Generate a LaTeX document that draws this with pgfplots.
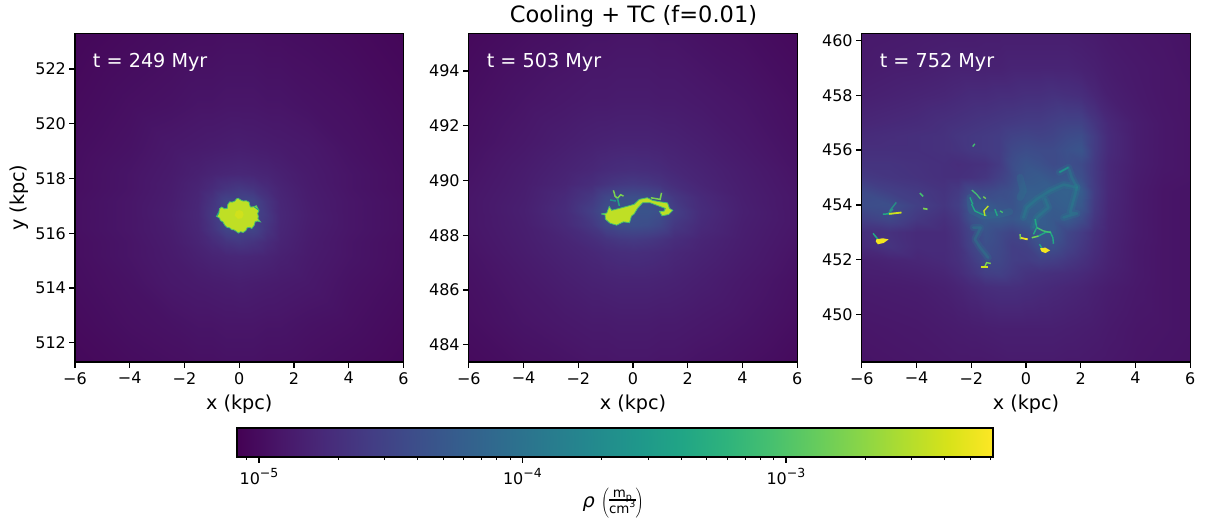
\documentclass[border=0pt]{standalone}
\usepackage{pgfplots}
\usepackage{fontspec}
\setmainfont{DejaVu Sans}
\pgfplotsset{compat=1.18}
\definecolor{yA}{HTML}{BFDF25}
\definecolor{yB}{HTML}{D0E11C}
\definecolor{yC}{HTML}{F4E61E}
\definecolor{gA}{HTML}{44BF70}
\definecolor{gB}{HTML}{7AD151}
\definecolor{tA}{HTML}{22A884}
\definecolor{tB}{HTML}{2A788E}
\definecolor{tC}{HTML}{21918C}
\newcommand{\tenp}[1]{10\raisebox{0.45em}{\fontsize{12.5}{13}\selectfont −#1}}
\tikzset{tlabel/.style={white, anchor=west, font=\fontsize{19.2}{21}\selectfont}}
\pgfplotsset{
  pan/.style={
    scale only axis, width=328.5pt, height=328.5pt, axis on top,
    colormap/viridis, point meta min=-5.0835, point meta max=-2.214,
    xmin=-6, xmax=6, enlargelimits=false,
    xtick={-6,-4,-2,0,2,4,6}, xticklabels={−6,−4,−2,0,2,4,6},
    tick align=outside, tick pos=lower, major tick length=5.6pt,
    tick style={black, line width=1.3pt}, axis line style={line width=1.3pt},
    tick label style={font=\fontsize{16}{18}\selectfont},
    xticklabel style={yshift=-1pt},
    label style={font=\fontsize{19.2}{21}\selectfont},
    xlabel={x (kpc)}, xlabel style={yshift=-4pt},
  },
  heat/.style={surf, shader=interp, point meta=explicit},
  wisp/.style={tC, opacity=0.16, line width=7pt, line join=round, line cap=round},
  core/.style={tC, opacity=0.28, line width=2.6pt, line join=round, line cap=round},
}
\begin{document}
\begin{tikzpicture}[x=1pt,y=1pt]
\path[use as bounding box] (0,0) rectangle (1207,520);
\node[font=\fontsize{22.5}{24}\selectfont] at (633.5,503.5) {Cooling + TC (f=0.01)};

% ---------- panel 1
\begin{axis}[pan, at={(75pt,158pt)}, anchor=south west, ymin=511.30, ymax=523.30,
  ytick={512,514,516,518,520,522}, yticklabels={512,514,516,518,520,522}, ylabel={y (kpc)}]
\addplot[heat, mesh/cols=13] table[row sep=\\, meta=m]{x y m\\
-6 510.67 -5.04\\-4 510.67 -5.01\\-2.5 510.67 -4.99\\-1.5 510.67 -4.98\\-1 510.67 -4.98\\-0.5 510.67 -4.97\\0 510.67 -4.97\\0.5 510.67 -4.97\\1 510.67 -4.98\\1.5 510.67 -4.98\\2.5 510.67 -4.99\\4 510.67 -5.01\\6 510.67 -5.04\\
-6 512.67 -5.01\\-4 512.67 -4.97\\-2.5 512.67 -4.95\\-1.5 512.67 -4.93\\-1 512.67 -4.93\\-0.5 512.67 -4.92\\0 512.67 -4.92\\0.5 512.67 -4.92\\1 512.67 -4.93\\1.5 512.67 -4.93\\2.5 512.67 -4.95\\4 512.67 -4.97\\6 512.67 -5.01\\
-6 514.17 -4.99\\-4 514.17 -4.95\\-2.5 514.17 -4.90\\-1.5 514.17 -4.88\\-1 514.17 -4.87\\-0.5 514.17 -4.86\\0 514.17 -4.85\\0.5 514.17 -4.86\\1 514.17 -4.87\\1.5 514.17 -4.88\\2.5 514.17 -4.90\\4 514.17 -4.95\\6 514.17 -4.99\\
-6 515.17 -4.98\\-4 515.17 -4.93\\-2.5 515.17 -4.88\\-1.5 515.17 -4.83\\-1 515.17 -4.80\\-0.5 515.17 -4.78\\0 515.17 -4.77\\0.5 515.17 -4.78\\1 515.17 -4.80\\1.5 515.17 -4.83\\2.5 515.17 -4.88\\4 515.17 -4.93\\6 515.17 -4.98\\
-6 515.67 -4.98\\-4 515.67 -4.93\\-2.5 515.67 -4.87\\-1.5 515.67 -4.80\\-1 515.67 -4.74\\-0.5 515.67 -4.66\\0 515.67 -4.62\\0.5 515.67 -4.66\\1 515.67 -4.74\\1.5 515.67 -4.80\\2.5 515.67 -4.87\\4 515.67 -4.93\\6 515.67 -4.98\\
-6 516.17 -4.97\\-4 516.17 -4.92\\-2.5 516.17 -4.86\\-1.5 516.17 -4.78\\-1 516.17 -4.66\\-0.5 516.17 -4.50\\0 516.17 -4.50\\0.5 516.17 -4.50\\1 516.17 -4.66\\1.5 516.17 -4.78\\2.5 516.17 -4.86\\4 516.17 -4.92\\6 516.17 -4.97\\
-6 516.67 -4.97\\-4 516.67 -4.92\\-2.5 516.67 -4.85\\-1.5 516.67 -4.77\\-1 516.67 -4.62\\-0.5 516.67 -4.50\\0 516.67 -4.50\\0.5 516.67 -4.50\\1 516.67 -4.62\\1.5 516.67 -4.77\\2.5 516.67 -4.85\\4 516.67 -4.92\\6 516.67 -4.97\\
-6 517.17 -4.97\\-4 517.17 -4.92\\-2.5 517.17 -4.86\\-1.5 517.17 -4.78\\-1 517.17 -4.66\\-0.5 517.17 -4.50\\0 517.17 -4.50\\0.5 517.17 -4.50\\1 517.17 -4.66\\1.5 517.17 -4.78\\2.5 517.17 -4.86\\4 517.17 -4.92\\6 517.17 -4.97\\
-6 517.67 -4.98\\-4 517.67 -4.93\\-2.5 517.67 -4.87\\-1.5 517.67 -4.80\\-1 517.67 -4.74\\-0.5 517.67 -4.66\\0 517.67 -4.62\\0.5 517.67 -4.66\\1 517.67 -4.74\\1.5 517.67 -4.80\\2.5 517.67 -4.87\\4 517.67 -4.93\\6 517.67 -4.98\\
-6 518.17 -4.98\\-4 518.17 -4.93\\-2.5 518.17 -4.88\\-1.5 518.17 -4.83\\-1 518.17 -4.80\\-0.5 518.17 -4.78\\0 518.17 -4.77\\0.5 518.17 -4.78\\1 518.17 -4.80\\1.5 518.17 -4.83\\2.5 518.17 -4.88\\4 518.17 -4.93\\6 518.17 -4.98\\
-6 519.17 -4.99\\-4 519.17 -4.95\\-2.5 519.17 -4.90\\-1.5 519.17 -4.88\\-1 519.17 -4.87\\-0.5 519.17 -4.86\\0 519.17 -4.85\\0.5 519.17 -4.86\\1 519.17 -4.87\\1.5 519.17 -4.88\\2.5 519.17 -4.90\\4 519.17 -4.95\\6 519.17 -4.99\\
-6 520.67 -5.01\\-4 520.67 -4.97\\-2.5 520.67 -4.95\\-1.5 520.67 -4.93\\-1 520.67 -4.93\\-0.5 520.67 -4.92\\0 520.67 -4.92\\0.5 520.67 -4.92\\1 520.67 -4.93\\1.5 520.67 -4.93\\2.5 520.67 -4.95\\4 520.67 -4.97\\6 520.67 -5.01\\
-6 523.3 -5.04\\-4 523.3 -5.01\\-2.5 523.3 -4.99\\-1.5 523.3 -4.98\\-1 523.3 -4.98\\-0.5 523.3 -4.97\\0 523.3 -4.97\\0.5 523.3 -4.97\\1 523.3 -4.98\\1.5 523.3 -4.98\\2.5 523.3 -4.99\\4 523.3 -5.01\\6 523.3 -5.04\\
};
\addplot[draw=gA, line width=0.8pt, fill=yA] coordinates {(-0.04,517.28)(0.05,517.22)(0.14,517.18)(0.26,517.19)(0.36,517.14)(0.38,517.04)(0.41,516.96)(0.52,516.97)(0.63,517.01)(0.67,516.92)(0.72,516.84)(0.67,516.72)(0.70,516.62)(0.68,516.54)(0.77,516.42)(0.66,516.45)(0.58,516.42)(0.55,516.30)(0.46,516.18)(0.37,516.22)(0.29,516.20)(0.24,516.10)(0.14,516.03)(0.05,516.06)(-0.03,516.01)(-0.12,516.08)(-0.20,516.13)(-0.27,516.13)(-0.35,516.20)(-0.45,516.22)(-0.53,516.30)(-0.60,516.42)(-0.69,516.47)(-0.72,516.56)(-0.83,516.62)(-0.76,516.70)(-0.74,516.79)(-0.72,516.90)(-0.64,516.96)(-0.54,516.90)(-0.44,516.91)(-0.42,517.05)(-0.35,517.15)(-0.26,517.14)(-0.16,517.18)(-0.10,517.26)(-0.04,517.28)};
\addplot[tA, line width=1pt] coordinates {(0.55,516.97)(0.72,516.84)};
\addplot[tA, line width=1pt] coordinates {(-0.83,516.62)(-0.74,516.79)};
\addplot[draw=none, fill=yB] coordinates {(0,516.85)(0.12,516.8)(0.16,516.68)(0.1,516.55)(-0.05,516.53)(-0.17,516.65)(-0.12,516.8)(0,516.85)};
\node[tlabel] at (axis description cs:0.044,0.912) {t = 249 Myr};
\end{axis}

% ---------- panel 2
\begin{axis}[pan, at={(468.8pt,158pt)}, anchor=south west, ymin=483.37, ymax=495.37,
  ytick={484,486,488,490,492,494}, yticklabels={484,486,488,490,492,494}]
\addplot[heat, mesh/cols=13] table[row sep=\\, meta=m]{x y m\\
-6 482.88 -5.02\\-4 482.88 -4.98\\-2.5 482.88 -4.96\\-1.5 482.88 -4.94\\-1 482.88 -4.94\\-0.5 482.88 -4.93\\0 482.88 -4.93\\0.5 482.88 -4.93\\1 482.88 -4.94\\1.5 482.88 -4.94\\2.5 482.88 -4.96\\4 482.88 -4.98\\6 482.88 -5.02\\
-6 484.88 -4.98\\-4 484.88 -4.93\\-2.5 484.88 -4.90\\-1.5 484.88 -4.88\\-1 484.88 -4.88\\-0.5 484.88 -4.87\\0 484.88 -4.87\\0.5 484.88 -4.87\\1 484.88 -4.88\\1.5 484.88 -4.88\\2.5 484.88 -4.90\\4 484.88 -4.93\\6 484.88 -4.98\\
-6 486.38 -4.96\\-4 486.38 -4.90\\-2.5 486.38 -4.85\\-1.5 486.38 -4.82\\-1 486.38 -4.81\\-0.5 486.38 -4.80\\0 486.38 -4.80\\0.5 486.38 -4.80\\1 486.38 -4.81\\1.5 486.38 -4.82\\2.5 486.38 -4.85\\4 486.38 -4.90\\6 486.38 -4.96\\
-6 487.38 -4.94\\-4 487.38 -4.87\\-2.5 487.38 -4.81\\-1.5 487.38 -4.77\\-1 487.38 -4.74\\-0.5 487.38 -4.72\\0 487.38 -4.71\\0.5 487.38 -4.72\\1 487.38 -4.74\\1.5 487.38 -4.77\\2.5 487.38 -4.81\\4 487.38 -4.87\\6 487.38 -4.94\\
-6 487.88 -4.93\\-4 487.88 -4.86\\-2.5 487.88 -4.79\\-1.5 487.88 -4.72\\-1 487.88 -4.66\\-0.5 487.88 -4.62\\0 487.88 -4.60\\0.5 487.88 -4.62\\1 487.88 -4.66\\1.5 487.88 -4.72\\2.5 487.88 -4.79\\4 487.88 -4.86\\6 487.88 -4.93\\
-6 488.38 -4.92\\-4 488.38 -4.85\\-2.5 488.38 -4.75\\-1.5 488.38 -4.62\\-1 488.38 -4.48\\-0.5 488.38 -4.42\\0 488.38 -4.40\\0.5 488.38 -4.42\\1 488.38 -4.48\\1.5 488.38 -4.62\\2.5 488.38 -4.75\\4 488.38 -4.85\\6 488.38 -4.92\\
-6 488.88 -4.92\\-4 488.88 -4.84\\-2.5 488.88 -4.73\\-1.5 488.88 -4.55\\-1 488.88 -4.40\\-0.5 488.88 -4.35\\0 488.88 -4.35\\0.5 488.88 -4.35\\1 488.88 -4.40\\1.5 488.88 -4.55\\2.5 488.88 -4.73\\4 488.88 -4.84\\6 488.88 -4.92\\
-6 489.38 -4.92\\-4 489.38 -4.85\\-2.5 489.38 -4.75\\-1.5 489.38 -4.62\\-1 489.38 -4.48\\-0.5 489.38 -4.42\\0 489.38 -4.40\\0.5 489.38 -4.42\\1 489.38 -4.48\\1.5 489.38 -4.62\\2.5 489.38 -4.75\\4 489.38 -4.85\\6 489.38 -4.92\\
-6 489.88 -4.93\\-4 489.88 -4.86\\-2.5 489.88 -4.79\\-1.5 489.88 -4.72\\-1 489.88 -4.66\\-0.5 489.88 -4.62\\0 489.88 -4.60\\0.5 489.88 -4.62\\1 489.88 -4.66\\1.5 489.88 -4.72\\2.5 489.88 -4.79\\4 489.88 -4.86\\6 489.88 -4.93\\
-6 490.38 -4.94\\-4 490.38 -4.87\\-2.5 490.38 -4.81\\-1.5 490.38 -4.77\\-1 490.38 -4.74\\-0.5 490.38 -4.72\\0 490.38 -4.71\\0.5 490.38 -4.72\\1 490.38 -4.74\\1.5 490.38 -4.77\\2.5 490.38 -4.81\\4 490.38 -4.87\\6 490.38 -4.94\\
-6 491.38 -4.96\\-4 491.38 -4.90\\-2.5 491.38 -4.85\\-1.5 491.38 -4.82\\-1 491.38 -4.81\\-0.5 491.38 -4.80\\0 491.38 -4.80\\0.5 491.38 -4.80\\1 491.38 -4.81\\1.5 491.38 -4.82\\2.5 491.38 -4.85\\4 491.38 -4.90\\6 491.38 -4.96\\
-6 492.88 -4.98\\-4 492.88 -4.93\\-2.5 492.88 -4.90\\-1.5 492.88 -4.88\\-1 492.88 -4.88\\-0.5 492.88 -4.87\\0 492.88 -4.87\\0.5 492.88 -4.87\\1 492.88 -4.88\\1.5 492.88 -4.88\\2.5 492.88 -4.90\\4 492.88 -4.93\\6 492.88 -4.98\\
-6 495.38 -5.02\\-4 495.38 -4.98\\-2.5 495.38 -4.96\\-1.5 495.38 -4.94\\-1 495.38 -4.94\\-0.5 495.38 -4.93\\0 495.38 -4.93\\0.5 495.38 -4.93\\1 495.38 -4.94\\1.5 495.38 -4.94\\2.5 495.38 -4.96\\4 495.38 -4.98\\6 495.38 -5.02\\
};
\addplot[gB, line width=1.5pt] coordinates {(-0.72,489.64)(-0.68,489.52)(-0.66,489.43)(-0.57,489.35)(-0.45,489.48)(-0.35,489.43)};
\addplot[tA, line width=1.5pt] coordinates {(-0.57,489.35)(-0.50,489.07)};
\addplot[tC, line width=1.5pt] coordinates {(-0.84,489.29)(-0.62,489.25)};
\addplot[gB, line width=1.5pt] coordinates {(0.65,489.37)(0.99,489.31)(1.04,489.55)};
\addplot[draw=gA, line width=0.8pt, fill=yA] coordinates {(-1.16,488.78)(-0.96,488.81)(-0.87,489.05)(-0.78,488.91)(-0.50,488.98)(-0.17,489.07)(0.04,489.13)(0.23,489.31)(0.52,489.37)(0.72,489.27)(0.99,489.22)(1.26,489.18)(1.33,488.98)(1.45,488.91)(1.30,488.76)(1.06,488.71)(0.96,488.88)(1.13,488.88)(1.18,488.98)(0.94,489.07)(0.62,489.19)(0.35,489.19)(0.16,488.98)(0.04,488.78)(-0.06,488.70)(-0.13,488.46)(-0.35,488.49)(-0.60,488.37)(-0.84,488.44)(-1.01,488.59)(-1.02,488.74)(-1.16,488.78)};
\node[tlabel] at (axis description cs:0.044,0.912) {t = 503 Myr};
\end{axis}

% ---------- panel 3
\begin{axis}[pan, at={(861.8pt,158pt)}, anchor=south west, ymin=448.26, ymax=460.26,
  ytick={450,452,454,456,458,460}, yticklabels={450,452,454,456,458,460}]
\addplot[heat, mesh/cols=19] table[row sep=\\, meta=m]{x y m\\
-6 448.2 -4.94\\-5 448.2 -4.93\\-4 448.2 -4.92\\-3 448.2 -4.91\\-2.5 448.2 -4.90\\-2 448.2 -4.90\\-1.5 448.2 -4.90\\-1 448.2 -4.89\\-0.5 448.2 -4.88\\0 448.2 -4.88\\0.5 448.2 -4.88\\1 448.2 -4.88\\1.5 448.2 -4.89\\2 448.2 -4.89\\2.5 448.2 -4.90\\3 448.2 -4.91\\4 448.2 -4.93\\5 448.2 -4.94\\6 448.2 -4.95\\
-6 449.5 -4.92\\-5 449.5 -4.91\\-4 449.5 -4.90\\-3 449.5 -4.88\\-2.5 449.5 -4.87\\-2 449.5 -4.86\\-1.5 449.5 -4.85\\-1 449.5 -4.84\\-0.5 449.5 -4.84\\0 449.5 -4.84\\0.5 449.5 -4.84\\1 449.5 -4.84\\1.5 449.5 -4.85\\2 449.5 -4.86\\2.5 449.5 -4.87\\3 449.5 -4.89\\4 449.5 -4.92\\5 449.5 -4.93\\6 449.5 -4.94\\
-6 451 -4.88\\-5 451 -4.87\\-4 451 -4.86\\-3 451 -4.83\\-2.5 451 -4.80\\-2 451 -4.76\\-1.5 451 -4.72\\-1 451 -4.70\\-0.5 451 -4.70\\0 451 -4.72\\0.5 451 -4.74\\1 451 -4.76\\1.5 451 -4.78\\2 451 -4.80\\2.5 451 -4.83\\3 451 -4.86\\4 451 -4.90\\5 451 -4.93\\6 451 -4.94\\
-6 451.5 -4.85\\-5 451.5 -4.84\\-4 451.5 -4.82\\-3 451.5 -4.79\\-2.5 451.5 -4.74\\-2 451.5 -4.66\\-1.5 451.5 -4.56\\-1 451.5 -4.54\\-0.5 451.5 -4.60\\0 451.5 -4.66\\0.5 451.5 -4.68\\1 451.5 -4.70\\1.5 451.5 -4.72\\2 451.5 -4.75\\2.5 451.5 -4.79\\3 451.5 -4.83\\4 451.5 -4.89\\5 451.5 -4.93\\6 451.5 -4.94\\
-6 452 -4.83\\-5 452 -4.80\\-4 452 -4.78\\-3 452 -4.75\\-2.5 452 -4.70\\-2 452 -4.60\\-1.5 452 -4.46\\-1 452 -4.48\\-0.5 452 -4.56\\0 452 -4.58\\0.5 452 -4.54\\1 452 -4.56\\1.5 452 -4.62\\2 452 -4.68\\2.5 452 -4.75\\3 452 -4.81\\4 452 -4.89\\5 452 -4.93\\6 452 -4.94\\
-6 452.5 -4.74\\-5 452.5 -4.66\\-4 452.5 -4.74\\-3 452.5 -4.74\\-2.5 452.5 -4.68\\-2 452.5 -4.52\\-1.5 452.5 -4.40\\-1 452.5 -4.46\\-0.5 452.5 -4.56\\0 452.5 -4.54\\0.5 452.5 -4.38\\1 452.5 -4.40\\1.5 452.5 -4.52\\2 452.5 -4.62\\2.5 452.5 -4.72\\3 452.5 -4.80\\4 452.5 -4.89\\5 452.5 -4.93\\6 452.5 -4.94\\
-6 453 -4.70\\-5 453 -4.68\\-4 453 -4.74\\-3 453 -4.74\\-2.5 453 -4.66\\-2 453 -4.50\\-1.5 453 -4.36\\-1 453 -4.44\\-0.5 453 -4.50\\0 453 -4.42\\0.5 453 -4.30\\1 453 -4.30\\1.5 453 -4.48\\2 453 -4.58\\2.5 453 -4.70\\3 453 -4.79\\4 453 -4.88\\5 453 -4.93\\6 453 -4.94\\
-6 453.5 -4.55\\-5 453.5 -4.48\\-4 453.5 -4.62\\-3 453.5 -4.70\\-2.5 453.5 -4.62\\-2 453.5 -4.38\\-1.5 453.5 -4.28\\-1 453.5 -4.28\\-0.5 453.5 -4.32\\0 453.5 -4.24\\0.5 453.5 -4.24\\1 453.5 -4.30\\1.5 453.5 -4.28\\2 453.5 -4.42\\2.5 453.5 -4.64\\3 453.5 -4.78\\4 453.5 -4.88\\5 453.5 -4.93\\6 453.5 -4.94\\
-6 454 -4.42\\-5 454 -4.40\\-4 454 -4.55\\-3 454 -4.64\\-2.5 454 -4.56\\-2 454 -4.32\\-1.5 454 -4.28\\-1 454 -4.34\\-0.5 454 -4.36\\0 454 -4.22\\0.5 454 -4.20\\1 454 -4.26\\1.5 454 -4.22\\2 454 -4.30\\2.5 454 -4.60\\3 454 -4.77\\4 454 -4.88\\5 454 -4.93\\6 454 -4.94\\
-6 454.5 -4.45\\-5 454.5 -4.55\\-4 454.5 -4.60\\-3 454.5 -4.66\\-2.5 454.5 -4.60\\-2 454.5 -4.44\\-1.5 454.5 -4.46\\-1 454.5 -4.42\\-0.5 454.5 -4.38\\0 454.5 -4.24\\0.5 454.5 -4.24\\1 454.5 -4.22\\1.5 454.5 -4.20\\2 454.5 -4.26\\2.5 454.5 -4.58\\3 454.5 -4.76\\4 454.5 -4.88\\5 454.5 -4.93\\6 454.5 -4.94\\
-6 455 -4.60\\-5 455 -4.64\\-4 455 -4.67\\-3 455 -4.70\\-2.5 455 -4.70\\-2 455 -4.68\\-1.5 455 -4.64\\-1 455 -4.55\\-0.5 455 -4.44\\0 455 -4.30\\0.5 455 -4.28\\1 455 -4.34\\1.5 455 -4.30\\2 455 -4.40\\2.5 455 -4.60\\3 455 -4.76\\4 455 -4.87\\5 455 -4.92\\6 455 -4.93\\
-6 455.5 -4.66\\-5 455.5 -4.66\\-4 455.5 -4.68\\-3 455.5 -4.70\\-2.5 455.5 -4.72\\-2 455.5 -4.70\\-1.5 455.5 -4.68\\-1 455.5 -4.60\\-0.5 455.5 -4.42\\0 455.5 -4.34\\0.5 455.5 -4.38\\1 455.5 -4.44\\1.5 455.5 -4.40\\2 455.5 -4.44\\2.5 455.5 -4.60\\3 455.5 -4.76\\4 455.5 -4.86\\5 455.5 -4.91\\6 455.5 -4.93\\
-6 456 -4.70\\-5 456 -4.70\\-4 456 -4.70\\-3 456 -4.68\\-2.5 456 -4.66\\-2 456 -4.62\\-1.5 456 -4.60\\-1 456 -4.58\\-0.5 456 -4.46\\0 456 -4.42\\0.5 456 -4.44\\1 456 -4.44\\1.5 456 -4.38\\2 456 -4.34\\2.5 456 -4.58\\3 456 -4.74\\4 456 -4.86\\5 456 -4.91\\6 456 -4.93\\
-6 456.5 -4.74\\-5 456.5 -4.72\\-4 456.5 -4.70\\-3 456.5 -4.68\\-2.5 456.5 -4.64\\-2 456.5 -4.62\\-1.5 456.5 -4.60\\-1 456.5 -4.58\\-0.5 456.5 -4.52\\0 456.5 -4.50\\0.5 456.5 -4.52\\1 456.5 -4.50\\1.5 456.5 -4.44\\2 456.5 -4.42\\2.5 456.5 -4.58\\3 456.5 -4.74\\4 456.5 -4.86\\5 456.5 -4.91\\6 456.5 -4.93\\
-6 457 -4.78\\-5 457 -4.76\\-4 457 -4.74\\-3 457 -4.70\\-2.5 457 -4.68\\-2 457 -4.66\\-1.5 457 -4.64\\-1 457 -4.62\\-0.5 457 -4.60\\0 457 -4.58\\0.5 457 -4.58\\1 457 -4.55\\1.5 457 -4.52\\2 457 -4.52\\2.5 457 -4.64\\3 457 -4.76\\4 457 -4.86\\5 457 -4.91\\6 457 -4.93\\
-6 458 -4.84\\-5 458 -4.82\\-4 458 -4.80\\-3 458 -4.78\\-2.5 458 -4.76\\-2 458 -4.74\\-1.5 458 -4.74\\-1 458 -4.72\\-0.5 458 -4.72\\0 458 -4.70\\0.5 458 -4.70\\1 458 -4.68\\1.5 458 -4.70\\2 458 -4.72\\2.5 458 -4.78\\3 458 -4.84\\4 458 -4.89\\5 458 -4.92\\6 458 -4.93\\
-6 459 -4.88\\-5 459 -4.86\\-4 459 -4.85\\-3 459 -4.83\\-2.5 459 -4.82\\-2 459 -4.82\\-1.5 459 -4.82\\-1 459 -4.82\\-0.5 459 -4.80\\0 459 -4.80\\0.5 459 -4.80\\1 459 -4.80\\1.5 459 -4.80\\2 459 -4.82\\2.5 459 -4.84\\3 459 -4.87\\4 459 -4.90\\5 459 -4.92\\6 459 -4.94\\
-6 460.3 -4.90\\-5 460.3 -4.89\\-4 460.3 -4.88\\-3 460.3 -4.87\\-2.5 460.3 -4.87\\-2 460.3 -4.87\\-1.5 460.3 -4.86\\-1 460.3 -4.86\\-0.5 460.3 -4.86\\0 460.3 -4.86\\0.5 460.3 -4.86\\1 460.3 -4.86\\1.5 460.3 -4.86\\2 460.3 -4.87\\2.5 460.3 -4.88\\3 460.3 -4.90\\4 460.3 -4.92\\5 460.3 -4.93\\6 460.3 -4.95\\
};
% broad strands: soft wide layer, then a narrower one
\addplot[wisp] coordinates {(1.22,455.19)(1.55,455.37)(1.67,455.00)(1.86,454.64)(1.37,454.74)(0.88,454.52)(0.39,454.21)(0.02,453.90)(-0.10,453.54)};
\addplot[core] coordinates {(1.22,455.19)(1.55,455.37)(1.67,455.00)(1.86,454.64)(1.37,454.74)(0.88,454.52)(0.39,454.21)(0.02,453.90)(-0.10,453.54)};
\addplot[wisp] coordinates {(1.86,454.64)(1.73,454.15)(1.61,453.72)(1.86,453.68)(1.55,453.60)(1.37,453.54)};
\addplot[core] coordinates {(1.86,454.64)(1.73,454.15)(1.61,453.72)(1.86,453.68)(1.55,453.60)(1.37,453.54)};
\addplot[wisp] coordinates {(-0.22,455.00)(-0.10,454.52)(-0.22,454.27)};
\addplot[wisp] coordinates {(0.70,454.21)(0.82,453.90)(0.39,453.54)(0.27,453.17)};
\addplot[core] coordinates {(0.70,454.21)(0.82,453.90)(0.39,453.54)(0.27,453.17)};
\addplot[wisp] coordinates {(-1.93,453.17)(-1.66,453.17)(-1.87,452.74)(-1.68,452.44)(-1.38,452.07)};
\addplot[core] coordinates {(-1.93,453.17)(-1.66,453.17)(-1.87,452.74)(-1.68,452.44)(-1.38,452.07)};
\addplot[wisp] coordinates {(-2.05,454.27)(-2.0,453.8)(-1.6,453.6)(-1.0,453.65)(-0.6,453.75)};
\addplot[tC, line width=1.6pt] coordinates {(1.22,455.19)(1.55,455.37)};
% fine filaments
\addplot[tA, line width=1.5pt] coordinates {(-5.59,452.96)(-5.41,452.74)};
\addplot[draw=none, fill=yC] coordinates {(-5.47,452.74)(-5.23,452.78)(-5.02,452.74)(-5.20,452.61)(-5.41,452.56)(-5.49,452.66)(-5.47,452.74)};
\addplot[tA, opacity=0.7, line width=1.5pt] coordinates {(-4.98,453.78)(-4.74,454.09)};
\addplot[tA, opacity=0.7, line width=1.5pt] coordinates {(-5.04,453.68)(-4.86,453.84)};
\addplot[tA, line width=1.5pt] coordinates {(-5.23,453.66)(-4.86,453.68)};
\addplot[yB, line width=1.8pt] coordinates {(-5.0,453.67)(-4.55,453.72)};
\addplot[gA, line width=1.5pt] coordinates {(-3.88,454.43)(-3.76,454.31)};
\addplot[gB, line width=1.7pt] coordinates {(-3.76,453.87)(-3.60,453.84)};
\addplot[gA, line width=1.3pt] coordinates {(-1.95,456.13)(-1.87,456.23)};
\addplot[gA, line width=1.3pt] coordinates {(-1.98,454.54)(-1.81,454.39)(-1.66,454.21)};
\addplot[gB, line width=1.3pt] coordinates {(-1.56,454.30)(-1.47,454.23)};
\addplot[tA, line width=1.3pt] coordinates {(-1.99,454.03)(-1.87,453.78)(-1.62,453.66)(-1.44,453.60)};
\addplot[yA, line width=1.4pt] coordinates {(-1.38,453.96)(-1.54,453.78)(-1.50,453.60)};
\addplot[tA, line width=1.4pt] coordinates {(-1.14,453.84)(-1.05,453.60)};
\addplot[gA, line width=1.3pt] coordinates {(-0.95,453.78)(-0.85,453.72)};
\addplot[tA, line width=1.3pt] coordinates {(-2.05,454.27)(-1.95,454.03)};
\addplot[gB, line width=1.4pt] coordinates {(-1.50,451.76)(-1.44,451.89)(-1.29,451.86)};
\addplot[yB, line width=1.9pt] coordinates {(-1.66,451.73)(-1.38,451.73)};
\addplot[yC, line width=1.8pt] coordinates {(-0.22,452.80)(0.06,452.74)};
\addplot[gB, line width=1.5pt] coordinates {(-0.22,452.93)(-0.20,452.74)};
\addplot[tA, line width=1.4pt] coordinates {(0.21,452.80)(0.45,452.86)(0.70,452.99)(0.88,453.02)(0.98,452.80)(1.00,452.58)};
\addplot[gB, line width=1.4pt] coordinates {(0.21,452.80)(0.45,452.86)};
\addplot[gA, line width=1.4pt] coordinates {(0.39,453.17)(0.63,453.05)(0.90,452.99)};
\addplot[tA, line width=1.4pt] coordinates {(0.33,453.48)(0.39,453.17)(0.27,452.92)};
\addplot[tA, line width=1.4pt] coordinates {(0.49,452.56)(0.61,452.37)};
\addplot[draw=none, fill=yC] coordinates {(0.51,452.41)(0.70,452.44)(0.88,452.34)(0.71,452.24)(0.57,452.29)(0.51,452.41)};
\node[tlabel] at (axis description cs:0.044,0.912) {t = 752 Myr};
\end{axis}

% ---------- colour bar
\begin{axis}[scale only axis, width=756pt, height=29pt, at={(237pt,63pt)}, anchor=south west, axis on top,
  colormap/viridis, point meta min=-5.0835, point meta max=-2.214,
  xmin=-5.0835, xmax=-2.214, ymin=0, ymax=1, ytick=\empty,
  xtick={-5,-4,-3}, xticklabels={\tenp{5},\tenp{4},\tenp{3}},
  minor xtick={-5.046,-4.699,-4.523,-4.398,-4.301,-4.222,-4.155,-4.097,-4.046,-3.699,-3.523,-3.398,-3.301,-3.222,-3.155,-3.097,-3.046,-2.699,-2.523,-2.398,-2.301,-2.222},
  tick align=outside, tick pos=lower, major tick length=5.6pt, minor tick length=3.2pt,
  major tick style={black, line width=1.3pt}, minor tick style={black, line width=1pt},
  axis line style={line width=1.3pt},
  tick label style={font=\fontsize{16}{18}\selectfont},
  xticklabel style={yshift=-2pt},
  xlabel={\textit{ρ}\,\,$\left(\vcenter{\hbox{\fontsize{13.4}{13.4}\selectfont\setlength{\arrayrulewidth}{1.2pt}\begin{tabular}{@{}c@{}}m\raisebox{-0.2em}{\fontsize{9.5}{10}\selectfont p}\\[-3pt]\hline\rule{0pt}{12pt}cm\raisebox{0.4em}{\fontsize{9.5}{10}\selectfont 3}\end{tabular}}}\right)$},
  xlabel style={font=\fontsize{19.2}{21}\selectfont, yshift=4pt, xshift=-2pt},
]
\addplot[heat, mesh/cols=2] table[row sep=\\, meta=m]{x y m\\
-5.0835 0 -5.0835\\-2.214 0 -2.214\\
-5.0835 1 -5.0835\\-2.214 1 -2.214\\
};
\end{axis}
\end{tikzpicture}
\end{document}
